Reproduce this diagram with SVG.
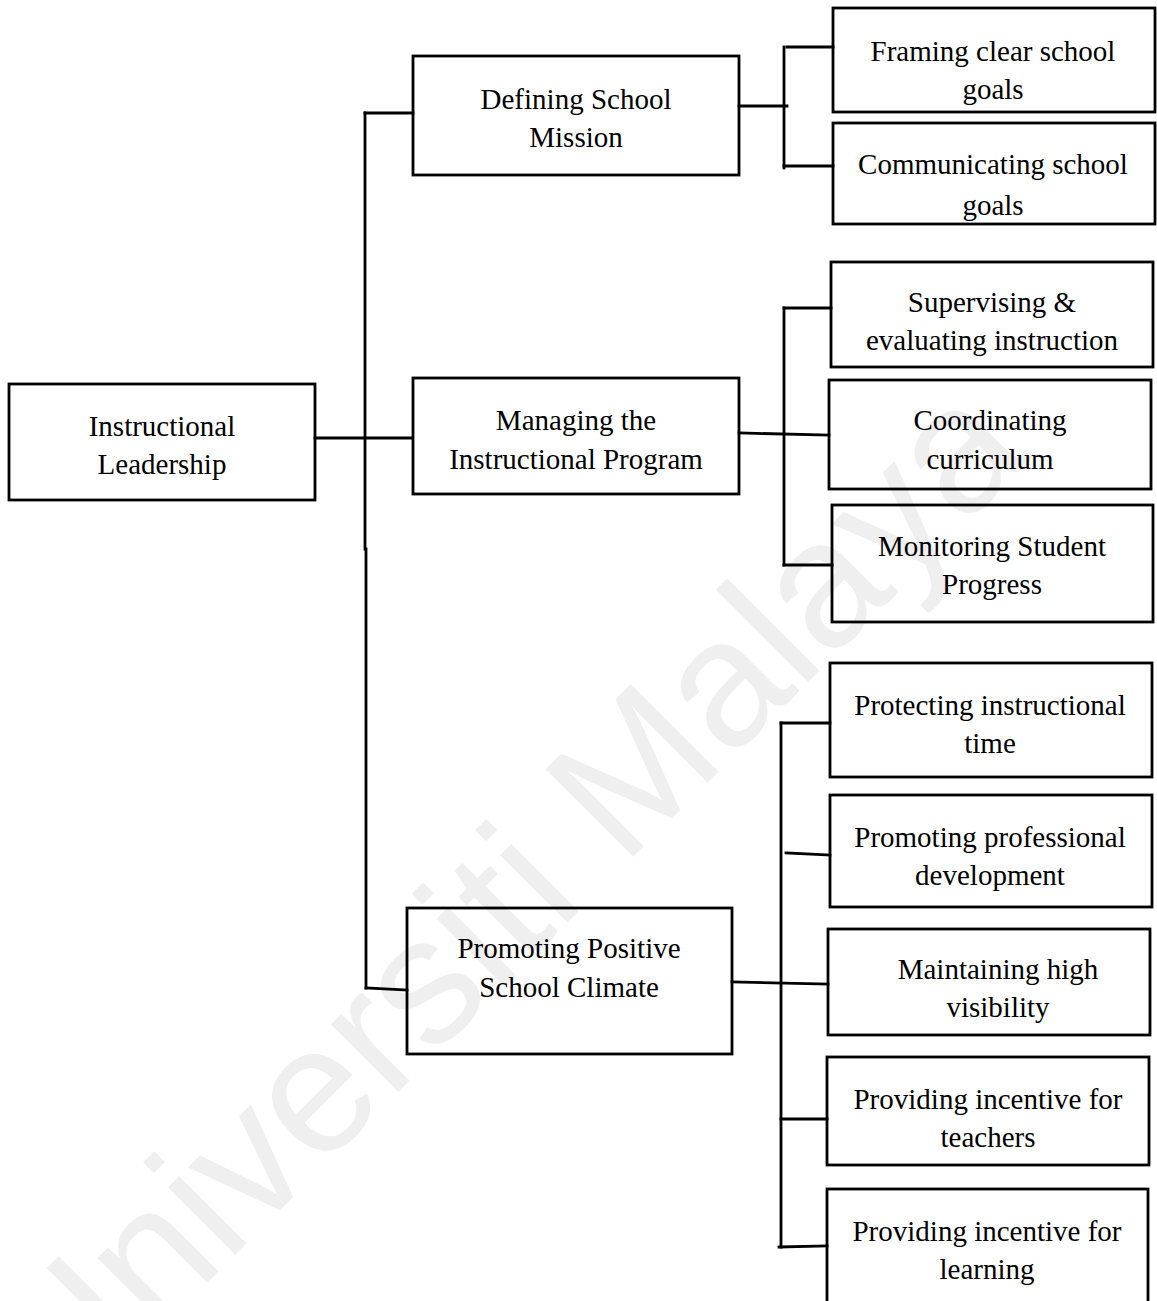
<svg xmlns="http://www.w3.org/2000/svg" width="1157" height="1301" viewBox="0 0 1157 1301">
<style>
.box{fill:none;stroke:#000;stroke-width:2.8}
.ln{fill:none;stroke:#000;stroke-width:2.8;stroke-linecap:square}
.t{font-family:"Liberation Serif","Times New Roman",serif;font-size:29px;fill:#000;text-anchor:middle}
.wm{font-family:"Liberation Sans",Arial,sans-serif;font-size:180px;fill:#efefef}
</style>
<defs>
<clipPath id="clipComm"><rect x="833" y="123" width="322" height="99"/></clipPath>
</defs>
<rect width="1157" height="1301" fill="#fff"/>
<text class="wm" transform="translate(64,1426) rotate(-45)">Universiti Malaya</text>

<g id="connectors">
<path class="ln" d="M315 438 H411"/>
<path class="ln" d="M365 113 V549"/>
<path class="ln" d="M366 549 V988"/>
<path class="ln" d="M365 113 H413"/>
<path class="ln" d="M366 988 L407 990"/>
<path class="ln" d="M739 106 H787"/>
<path class="ln" d="M784 47 V168"/>
<path class="ln" d="M787 47 H833"/>
<path class="ln" d="M784 166 H833"/>
<path class="ln" d="M739 433 L829 435"/>
<path class="ln" d="M784 308 V565"/>
<path class="ln" d="M784 308 H831"/>
<path class="ln" d="M784 565 H832"/>
<path class="ln" d="M732 982 L828 984"/>
<path class="ln" d="M781 723 V1247"/>
<path class="ln" d="M781 723 H830"/>
<path class="ln" d="M786 853 L830 855"/>
<path class="ln" d="M781 1119 H827"/>
<path class="ln" d="M779 1247 L827 1246"/>
</g>

<g id="n-root"><rect class="box" x="9" y="384" width="306" height="116"/>
<text class="t" x="162" y="436">Instructional</text><text class="t" x="162" y="474">Leadership</text></g>

<g id="n-mission"><rect class="box" x="413" y="56" width="326" height="119"/>
<text class="t" x="576" y="109">Defining School</text><text class="t" x="576" y="147">Mission</text></g>

<g id="n-program"><rect class="box" x="413" y="378" width="326" height="116"/>
<text class="t" x="576" y="430">Managing the</text><text class="t" x="576" y="469">Instructional Program</text></g>

<g id="n-climate"><rect class="box" x="407" y="908" width="325" height="146"/>
<text class="t" x="569" y="958">Promoting Positive</text><text class="t" x="569" y="997">School Climate</text></g>

<g id="n-framing"><rect class="box" x="833" y="8" width="322" height="104"/>
<text class="t" x="993" y="61">Framing clear school</text><text class="t" x="993" y="99">goals</text></g>

<g id="n-communicating"><rect class="box" x="833" y="123" width="322" height="101"/>
<g clip-path="url(#clipComm)"><text class="t" x="993" y="174">Communicating school</text><text class="t" x="993" y="215">goals</text></g></g>

<g id="n-supervising"><rect class="box" x="831" y="262" width="322" height="105"/>
<text class="t" x="992" y="312">Supervising &amp;</text><text class="t" x="992" y="350">evaluating instruction</text></g>

<g id="n-coordinating"><rect class="box" x="829" y="380" width="322" height="109"/>
<text class="t" x="990" y="430">Coordinating</text><text class="t" x="990" y="469">curriculum</text></g>

<g id="n-monitoring"><rect class="box" x="832" y="505" width="321" height="117"/>
<text class="t" x="992" y="556">Monitoring Student</text><text class="t" x="992" y="594">Progress</text></g>

<g id="n-protecting"><rect class="box" x="830" y="663" width="322" height="114"/>
<text class="t" x="990" y="715">Protecting instructional</text><text class="t" x="990" y="753">time</text></g>

<g id="n-profdev"><rect class="box" x="830" y="795" width="322" height="112"/>
<text class="t" x="990" y="847">Promoting professional</text><text class="t" x="990" y="885">development</text></g>

<g id="n-visibility"><rect class="box" x="828" y="929" width="322" height="106"/>
<text class="t" x="998" y="979">Maintaining high</text><text class="t" x="998" y="1017">visibility</text></g>

<g id="n-teachers"><rect class="box" x="827" y="1057" width="322" height="108"/>
<text class="t" x="988" y="1109">Providing incentive for</text><text class="t" x="988" y="1147">teachers</text></g>

<g id="n-learning"><rect class="box" x="827" y="1189" width="321" height="120"/>
<text class="t" x="987" y="1241">Providing incentive for</text><text class="t" x="987" y="1279">learning</text></g>
</svg>
